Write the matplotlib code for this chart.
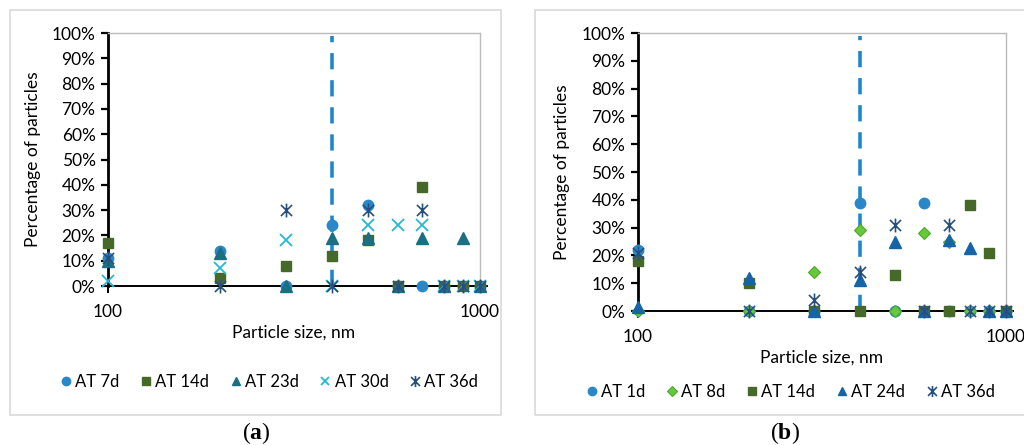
import matplotlib
matplotlib.use("Agg")

import matplotlib.pyplot as plt
from matplotlib.patches import Rectangle
from matplotlib.path import Path
from matplotlib.ticker import FixedLocator, FuncFormatter, NullLocator

# particle size bins, nm
SIZES = [100, 200, 300, 400, 500, 600, 700, 800, 900, 1000]
CUTOFF_NM = 400

# panel (a): percentage of particles per bin
A_LABELS = ["AT 7d", "AT 14d", "AT 23d", "AT 30d", "AT 36d"]
A_7D = [11, 14, 0, 24, 32, 0, 0, 0, 0, 0]
A_14D = [17, 3, 8, 12, 18, 0, 39, 0, 0, 0]
A_23D = [10, 13, 0, 19, 19, 0, 19, 0, 19, 0]
A_30D = [2, 7, 18, 0, 24, 24, 24, 0, 0, 0]
A_36D = [11, 0, 30, 0, 30, 0, 30, 0, 0, 0]

# panel (b)
B_LABELS = ["AT 1d", "AT 8d", "AT 14d", "AT 24d", "AT 36d"]
B_1D = [22, 0, 0, 39, 0, 39, 0, 0, 0, 0]
B_8D = [0, 0, 14, 29, 0, 28, 25, 0, 0, 0]
B_14D = [18, 10, 0, 0, 13, 0, 0, 38, 21, 0]
B_24D = [1.5, 12, 0, 11, 25, 0, 25.5, 22.5, 0, 0]
B_36D = [21, 0, 4, 14, 31, 0, 31, 0, 0, 0]

FONT = "Lato"
plt.rcParams["font.family"] = FONT
plt.rcParams["mathtext.fontset"] = "custom"
plt.rcParams["mathtext.bf"] = "Liberation Serif:bold"
plt.rcParams["mathtext.rm"] = "Liberation Serif"

BLUE = "#2A88C9"
OLIVE = "#46692A"
TEAL = "#1B6F82"
CYAN = "#22B8D8"
NAVY = "#264F80"
GREEN = "#66C93A"
DBLUE = "#1565A6"

# excel-style star: an X with a vertical bar through it
STAR = Path([(-1, -1), (1, 1), (-1, 1), (1, -1), (0, -1.25), (0, 1.25)],
            [Path.MOVETO, Path.LINETO] * 3)

STYLE_A = [
    dict(marker="o", color=BLUE, ms=7.5),
    dict(marker="s", color=OLIVE, ms=7),
    dict(marker="^", color=TEAL, ms=8),
    dict(marker="x", color=CYAN, ms=8, mew=1.3),
    dict(marker=STAR, color=NAVY, ms=10, mew=1.2),
]
STYLE_B = [
    dict(marker="o", color=BLUE, ms=7.5),
    dict(marker="D", color=GREEN, ms=6.5, mec="#4FA82A", mew=0.8),
    dict(marker="s", color=OLIVE, ms=7),
    dict(marker="^", color=DBLUE, ms=8),
    dict(marker=STAR, color=NAVY, ms=10, mew=1.2),
]


def draw_panel(fig, rect, series, labels, styles, legend_xy):
    ax = fig.add_axes(rect)
    ax.set_xscale("log")
    ax.set_xlim(100, 1000)
    ax.set_ylim(0, 100)

    ax.plot([CUTOFF_NM, CUTOFF_NM], [0, 99], color="#1F86CC", lw=2.6,
            linestyle=(0, (4.5, 3.0)), zorder=2)

    handles = []
    for vals, lab, st in zip(series, labels, styles):
        h, = ax.plot(SIZES, vals, linestyle="none", label=lab,
                     clip_on=False, zorder=4, **st)
        handles.append(h)

    ax.axhline(0, color="black", lw=1.4, zorder=3, xmax=1.02, clip_on=False)

    for s in ("top", "right"):
        ax.spines[s].set_color("#BBBBBB")
        ax.spines[s].set_linewidth(1.0)
    ax.spines["left"].set_linewidth(2.0)
    ax.spines["bottom"].set_visible(False)

    ax.yaxis.set_major_locator(FixedLocator(range(0, 101, 10)))
    ax.yaxis.set_major_formatter(FuncFormatter(lambda v, p: f"{v:.0f}%"))
    ax.xaxis.set_major_locator(FixedLocator([100, 1000]))
    ax.xaxis.set_major_formatter(FuncFormatter(lambda v, p: f"{v:.0f}"))
    ax.xaxis.set_minor_locator(NullLocator())
    ax.tick_params(axis="y", direction="out", length=5, width=1.6,
                   labelsize=12.5, pad=4, colors="black")
    ax.tick_params(axis="x", direction="out", length=5, width=1.4,
                   labelsize=12.5, pad=8)
    ax.set_xlabel("Particle size, nm", fontsize=12.5, labelpad=3)
    ax.set_ylabel("Percentage of particles", fontsize=12.5, labelpad=8)

    fig.legend(handles=handles, loc="center", bbox_to_anchor=legend_xy,
               ncols=5, frameon=False, fontsize=12, handletextpad=0.1,
               columnspacing=1.15, handlelength=0.9, markerscale=0.8)
    return ax


fig = plt.figure(figsize=(10.24, 4.45), dpi=100)

# light panel frames
fig.patches.append(Rectangle((0.0098, 0.0674), 0.4795, 0.910,
                             transform=fig.transFigure, fill=False,
                             ec="#D9D9D9", lw=1.2))
fig.patches.append(Rectangle((0.5225, 0.0674), 0.49, 0.910,
                             transform=fig.transFigure, fill=False,
                             ec="#D9D9D9", lw=1.2))

draw_panel(fig, [0.1055, 0.3573, 0.3633, 0.5685],
           [A_7D, A_14D, A_23D, A_30D, A_36D], A_LABELS, STYLE_A,
           (0.262, 1 - 382 / 445))
draw_panel(fig, [0.623, 0.3011, 0.3594, 0.6247],
           [B_1D, B_8D, B_14D, B_24D, B_36D], B_LABELS, STYLE_B,
           (0.771, 1 - 392 / 445))

fig.text(0.25, 1 - 433 / 445, r"($\mathbf{a}$)", ha="center", va="center",
         fontsize=17, family="Liberation Serif")
fig.text(0.767, 1 - 433 / 445, r"($\mathbf{b}$)", ha="center", va="center",
         fontsize=17, family="Liberation Serif")

fig.savefig("out.png", dpi=100)
